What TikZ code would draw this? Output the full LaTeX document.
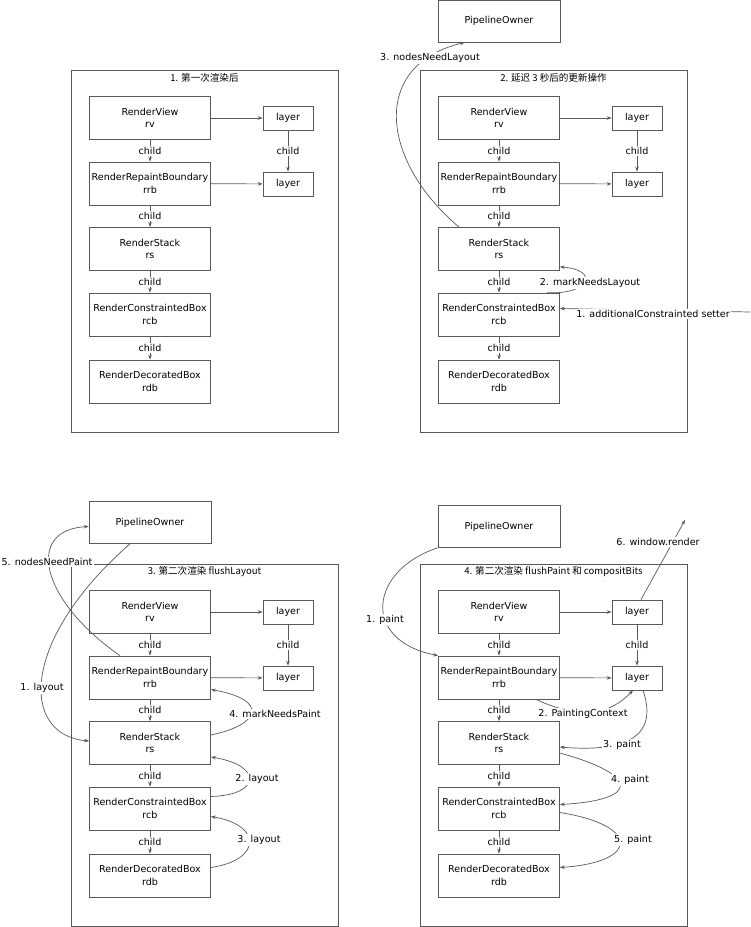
\documentclass[tikz,border=0pt]{standalone}
\usepackage{fontspec}
\setmainfont{DejaVu Sans}
\newfontfamily\cjk{Noto Sans CJK SC}
\usetikzlibrary{arrows.meta, positioning}

% one panel of the render tree: suffix, x offset, y offset, title
\newcommand{\treepanel}[4]{%
  \begin{scope}[shift={(#2,#3)}]
    \draw[line] (71,70) rectangle (338,432);
    \node[txt] at (204.5,78) {\cjk #4};
    \node[box] (rv#1) at (150,118) {RenderView\\rv};
    \node[box] (rrb#1) at (150,183.5) {RenderRepaintBoundary\\rrb};
    \node[box] (rs#1) at (150,249) {RenderStack\\rs};
    \node[box] (rcb#1) at (150,314.5) {RenderConstraintedBox\\rcb};
    \node[box] (rdb#1) at (150,381.5) {RenderDecoratedBox\\rdb};
    \node[layer] (la#1) at (288,118) {layer};
    \node[layer] (lb#1) at (288,184) {layer};
    \draw[arr] (rv#1) -- (la#1);
    \draw[arr] (rrb#1) -- (lb#1);
    \draw[arr] (la#1) -- node[txt]{child} (lb#1);
    \draw[arr] (rv#1) -- node[txt]{child} (rrb#1);
    \draw[arr] (rrb#1) -- node[txt]{child} (rs#1);
    \draw[arr] (rs#1) -- node[txt]{child} (rcb#1);
    \draw[arr] (rcb#1) -- node[txt]{child} (rdb#1);
  \end{scope}}

\begin{document}
\begin{tikzpicture}[
    x=0.025cm, y=-0.025cm,
    line/.style={draw=black!65, line width=0.5pt},
    arr/.style={line, -{Stealth[length=3.5pt, width=2.5pt]}},
    txt/.style={fill=white, inner sep=1pt, font=\fontsize{6.8}{8.5}\selectfont},
    box/.style={line, rectangle, minimum width=3.025cm, minimum height=1.075cm, text width=2.95cm, align=center, inner sep=0pt, font=\fontsize{6.8}{8.8}\selectfont},
    layer/.style={box, minimum width=1.25cm, minimum height=0.6cm, text width=1.2cm},
    owner/.style={box, minimum width=3.05cm, minimum height=1.05cm}
]
    \useasboundingbox (0,0) rectangle (750,927);

    % four panels
    \treepanel{1}{0}{0}{1. 第一次渲染后}
    \treepanel{2}{349}{0}{2. 延迟 3 秒后的更新操作}
    \treepanel{3}{0}{494}{3. 第二次渲染 flushLayout}
    \treepanel{4}{349}{494}{4. 第二次渲染 flushPaint 和 compositBits}

    % pipeline owners
    \node[owner] (po2) at (499,21) {PipelineOwner};
    \node[owner] (po3) at (150,522.5) {PipelineOwner};
    \node[owner] (po4) at (499,526.5) {PipelineOwner};
    \coordinate (in2) at (750,312);
    \coordinate (out4) at (685,520);

    % panel 2: update after 3 seconds
    \draw[arr] ([xshift=-1cm]rs2.north) .. controls (380,160) and (370,65) .. ([xshift=-0.85cm]po2.south);
    \node[txt] at (430,58) {3. nodesNeedLayout};
    \draw[arr] ([xshift=1.2cm]rcb2.north) .. controls (590,295) and (600,270) .. ([yshift=0.1cm]rs2.south east);
    \node[txt] at (590,283) {2. markNeedsLayout};
    \draw[arr] (in2) -- ([yshift=0.15cm]rcb2.east);
    \node[txt] at (653,314) {1. additionalConstrainted setter};

    % panel 3: flushLayout
    \draw[arr] ([xshift=-0.5cm]po3.south) .. controls (20,640) and (20,735) .. ([yshift=0.05cm]rs3.west);
    \node[txt] at (42,688) {1. layout};
    \draw[arr] ([xshift=-0.75cm]rrb3.north) .. controls (40,600) and (25,530) .. ([yshift=-0.1cm]po3.west);
    \node[txt] at (47,562) {5. nodesNeedPaint};
    \draw[arr] ([yshift=0.2cm]rs3.east) .. controls (260,725) and (270,700) .. ([yshift=-0.3cm]rrb3.east);
    \node[txt] at (275,714) {4. markNeedsPaint};
    \draw[arr, {Stealth[length=3.5pt, width=2.5pt]}-] ([yshift=-0.35cm]rs3.east) .. controls (262,765) and (262,795) .. ([yshift=0.3cm]rcb3.east);
    \node[txt] at (257,779) {2. layout};
    \draw[arr, {Stealth[length=3.5pt, width=2.5pt]}-] ([yshift=-0.2cm]rcb3.east) .. controls (262,825) and (262,860) .. ([yshift=0.2cm]rdb3.east);
    \node[txt] at (259,840) {3. layout};

    % panel 4: flushPaint and compositBits
    \draw[arr] (po4.south west) .. controls (370,570) and (360,640) .. (rrb4.north west);
    \node[txt] at (385,620) {1. paint};
    \draw[arr] ([xshift=0.1cm]la4.north) -- (out4);
    \node[txt] at (658,542) {6. window.render};
    \draw[arr] ([xshift=-0.6cm]rrb4.south east) .. controls (585,722) and (612,712) .. ([xshift=-0.1cm]lb4.south);
    \node[txt] at (583,714) {2. PaintingContext};
    \draw[arr] ([xshift=0.15cm]lb4.south) .. controls (660,740) and (620,752) .. ([yshift=-0.1cm]rs4.east);
    \node[txt] at (622,745) {3. paint};
    \draw[arr] ([yshift=-0.25cm]rs4.east) .. controls (640,775) and (640,800) .. ([yshift=0.1cm]rcb4.east);
    \node[txt] at (630,780) {4. paint};
    \draw[arr] ([yshift=-0.1cm]rcb4.east) .. controls (640,825) and (640,862) .. ([yshift=0.2cm]rdb4.east);
    \node[txt] at (633,840) {5. paint};
\end{tikzpicture}
\end{document}
